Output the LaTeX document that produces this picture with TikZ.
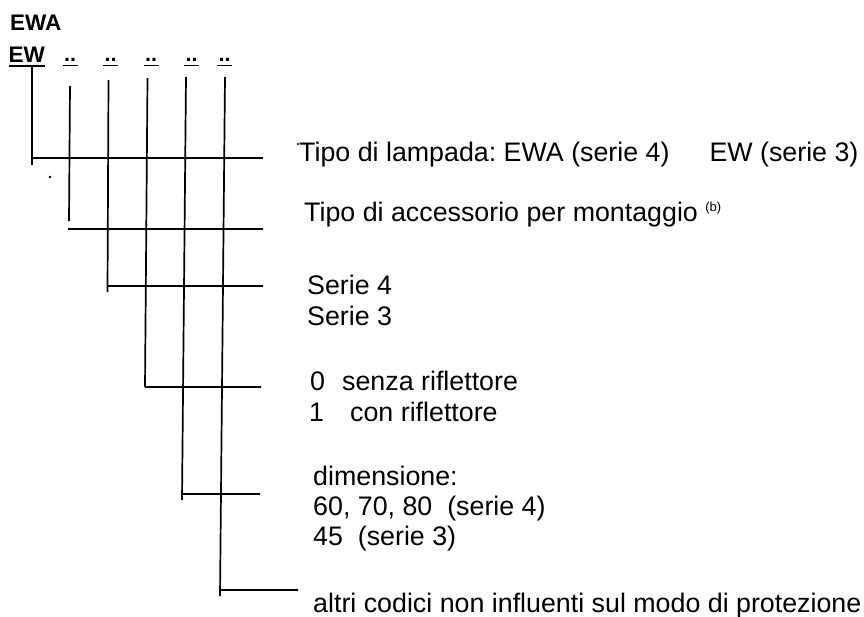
\documentclass[tikz,border=0pt]{standalone}
\usepackage{fontspec}
\setmainfont{Liberation Sans}
\frenchspacing
\begin{document}
\begin{tikzpicture}[x=1pt,y=-1pt,
  lab/.style={anchor=base west,inner sep=0pt,font=\fontsize{26.8}{32}\selectfont},
  hdr/.style={anchor=base west,inner sep=0pt,font=\fontsize{22.5}{26}\selectfont\bfseries},
  tok/.style={anchor=base,inner sep=0pt,font=\fontsize{21.5}{25}\selectfont\bfseries},
  uline/.style={line width=1.8pt},
  wire/.style={line width=1.7pt}]
\useasboundingbox (0,0) rectangle (864,616);
% header
\node[hdr] (ewa) at (10,30) {EWA};
\node[hdr] (tk0) at (8.5,62) {EW};
\draw[uline] ([yshift=-4pt]tk0.base west) -- ([yshift=-4pt]tk0.base east);
\foreach \n/\x in {1/70,2/110.5,3/151,4/191.5,5/224.5}{
  \node[tok] (tk\n) at (\x,61) {..};
  \draw[uline] ([xshift=-7.5pt,yshift=-4.5pt]tk\n.base) -- ([xshift=7.5pt,yshift=-4.5pt]tk\n.base);
}
% wire coordinates
\coordinate (a0) at (32,66);    \coordinate (b0) at (32,165);   \coordinate (c0) at (32,158);    \coordinate (e0) at (263,158);
\coordinate (a1) at (70,86);    \coordinate (b1) at (69,221);   \coordinate (c1) at (68,229);    \coordinate (e1) at (263,229);
\coordinate (a2) at (108.5,80); \coordinate (b2) at (107.5,292);\coordinate (c2) at (107.6,286); \coordinate (e2) at (263,286);
\coordinate (a3) at (147.5,78); \coordinate (b3) at (145,387);  \coordinate (c3) at (145,387);   \coordinate (e3) at (261,387);
\coordinate (a4) at (186,77);   \coordinate (b4) at (182,500);  \coordinate (c4) at (182.3,494); \coordinate (e4) at (260,494);
\coordinate (a5) at (225,77);   \coordinate (b5) at (220,596);  \coordinate (c5) at (220.3,590); \coordinate (e5) at (298,590);
\foreach \i in {0,...,5}{
  \draw[wire] (a\i) -- (b\i) (c\i) -- (e\i);
}
% specks
\fill (50,177) circle (1.3);
\fill (298,144) circle (1.2);
% labels
\node[lab] (lb0) at (299,161) {Tipo di lampada: EWA (serie 4)\hspace{40pt}EW (serie 3)};
\node[lab] (lb1) at (304,221) {Tipo di accessorio per montaggio \raisebox{10pt}{\fontsize{13}{15}\selectfont (b)}};
\node[lab] (lb2a) at (307,294) {Serie 4};
\node[lab] (lb2b) at (307,325) {Serie 3};
\node[lab] (lb3a) at (310,390) {\makebox[32pt][l]{0}senza riflettore};
\node[lab] (lb3b) at (309,421) {\makebox[41pt][l]{1}con riflettore};
\node[lab] (lb4a) at (313,485) {dimensione:};
\node[lab] (lb4b) at (313,515) {60, 70, 80\ \ (serie 4)};
\node[lab] (lb4c) at (313,545) {45\ \ (serie 3)};
\node[lab] (lb5) at (313,612) {altri codici non influenti sul modo di protezione};
\end{tikzpicture}
\end{document}
